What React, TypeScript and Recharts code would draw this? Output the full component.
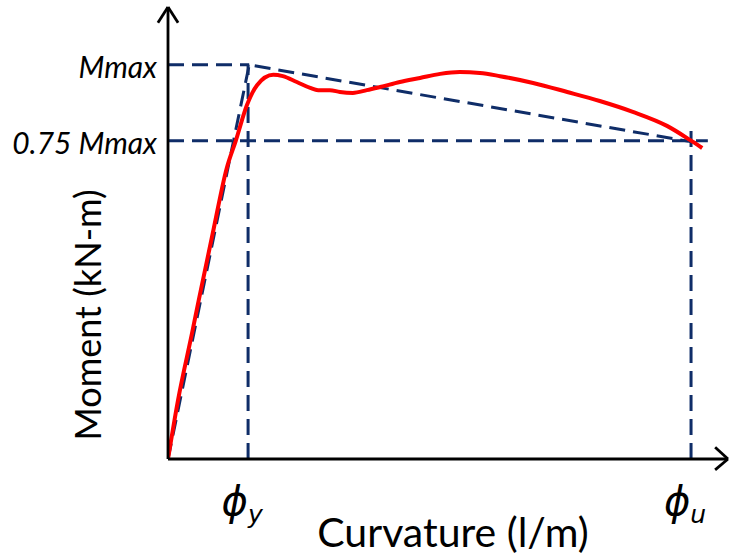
import { LineChart, Line, XAxis, YAxis, ReferenceLine } from "recharts";

// moment-curvature response (arbitrary units)
const curvature = [0, 1.8, 4.3, 5.5, 8.0, 10.5, 12.1, 14.1, 15.9, 18.8, 20.5, 23.0, 25.4, 26.8, 28.9, 30.7, 33.0, 35.5, 37.9, 41.4, 45.0, 48.6, 52.1, 55.7, 59.3, 65.2, 71.3, 77.1, 83.0, 89.1, 93.2, 95.4];
const moment = [0, 13.1, 27.9, 35.2, 50.0, 64.4, 70.4, 78.3, 82.7, 85.0, 84.7, 83.4, 82.1, 81.6, 81.6, 81.2, 81.0, 81.6, 82.3, 83.4, 84.3, 85.2, 85.6, 85.4, 84.7, 83.2, 81.2, 79.2, 76.8, 73.7, 70.6, 68.8];

// idealised bilinear envelope
const bilinearX = [0, 14.5, 95.2];
const bilinearY = [0, 87.2, 69.8];

const M_MAX = 87.2;
const M_75 = 70.4;
const PHI_Y = 14.3;
const PHI_U = 93.4;
const PHI_U_TOP = 73.5;
const GUIDE_END = 96.4;

const yTicks = [M_75, M_MAX];
const yTickLabels = ["0.75 Mmax", "Mmax"];
const xTicks = [PHI_Y, PHI_U];
const xTickSubs = ["y", "u"];

// arrow heads at the end of each axis
const yArrow = [{ x: -1.8, y: 96.5 }, { x: 0, y: 100 }, { x: 1.8, y: 96.5 }];
const xArrow = [{ x: 97.7, y: 2.6 }, { x: 100, y: 0 }, { x: 97.7, y: -2.4 }];

const responseData = curvature.map((c, i) => ({ c, m: moment[i] }));
const bilinearData = bilinearX.map((c, i) => ({ c, b: bilinearY[i] }));

const NAVY = "#0f2d68";
const DASH = "16 8";
const FONT = "Lato, 'Open Sans', sans-serif";

function YTick(props: any) {
  const { x, y, payload } = props;
  const idx = yTicks.indexOf(payload.value);
  return (
    <text x={x + 1} y={y + 1} textAnchor="end" dominantBaseline="central"
      fontFamily={FONT} fontStyle="italic" fontSize={30} fill="#000">
      {yTickLabels[idx]}
    </text>
  );
}

function XTick(props: any) {
  const { x, payload } = props;
  const idx = xTicks.indexOf(payload.value);
  return (
    <text x={x - 6} y={515} textAnchor="middle" fontFamily="'DejaVu Sans', sans-serif"
      fontStyle="italic" fill="#000">
      <tspan fontSize={40}>ϕ</tspan>
      <tspan fontSize={25} dy={8}>{xTickSubs[idx]}</tspan>
    </text>
  );
}

export default function App() {
  return (
    <div style={{ position: "absolute", left: 0, top: 0, width: 731, height: 557, background: "#fff" }}>
      <LineChart width={731} height={557} margin={{ top: 7, right: 3, left: 0, bottom: 0 }}>
        <XAxis
          type="number" dataKey="c" domain={[0, 100]} allowDataOverflow
          ticks={xTicks} tick={<XTick />} tickLine={false} tickSize={0} tickMargin={10}
          height={98} axisLine={{ stroke: "#000", strokeWidth: 2.8 }}
          label={{
            content: (p: any) => {
              const vb = p.viewBox || { x: 168, y: 459, width: 560, height: 98 };
              return (
                <text x={vb.x + vb.width / 2 + 5} y={vb.y + vb.height - 10} textAnchor="middle"
                  fontFamily={FONT} fontSize={41} fill="#000">
                  Curvature (l/m)
                </text>
              );
            },
          }}
        />
        <YAxis
          type="number" domain={[0, 100]} allowDataOverflow
          ticks={yTicks} tick={<YTick />} tickLine={false} tickSize={0} tickMargin={12}
          width={168} axisLine={{ stroke: "#000", strokeWidth: 2.8 }}
          label={{
            content: (p: any) => {
              const vb = p.viewBox || { x: 0, y: 7, width: 168, height: 452 };
              const cx = vb.x + 87;
              const cy = vb.y + vb.height / 2 + 82;
              return (
                <text x={cx} y={cy} textAnchor="middle" dominantBaseline="central"
                  transform={`rotate(-90, ${cx}, ${cy})`}
                  fontFamily={FONT} fontSize={36} fill="#000">
                  Moment (kN-m)
                </text>
              );
            },
          }}
        />

        <ReferenceLine ifOverflow="visible" segment={[{ x: 0, y: M_MAX }, { x: bilinearX[1], y: M_MAX }]}
          stroke={NAVY} strokeWidth={3} strokeDasharray={DASH} />
        <ReferenceLine ifOverflow="visible" segment={[{ x: 0, y: M_75 }, { x: GUIDE_END, y: M_75 }]}
          stroke={NAVY} strokeWidth={3} strokeDasharray={DASH} />
        <ReferenceLine ifOverflow="visible" segment={[{ x: PHI_Y, y: 0 }, { x: PHI_Y, y: M_MAX }]}
          stroke={NAVY} strokeWidth={3} strokeDasharray={DASH} />
        <ReferenceLine ifOverflow="visible" segment={[{ x: PHI_U, y: 0 }, { x: PHI_U, y: PHI_U_TOP }]}
          stroke={NAVY} strokeWidth={3} strokeDasharray={DASH} />

        <Line data={bilinearData} dataKey="b" type="linear" stroke={NAVY} strokeWidth={3}
          strokeDasharray={DASH} dot={false} activeDot={false} isAnimationActive={false} />
        <Line data={responseData} dataKey="m" type="monotone" stroke="#ff0000" strokeWidth={4}
          dot={false} activeDot={false} isAnimationActive={false} />

        <ReferenceLine ifOverflow="visible" segment={[yArrow[0], yArrow[1]]} stroke="#000" strokeWidth={2.8} />
        <ReferenceLine ifOverflow="visible" segment={[yArrow[1], yArrow[2]]} stroke="#000" strokeWidth={2.8} />
        <ReferenceLine ifOverflow="visible" segment={[xArrow[0], xArrow[1]]} stroke="#000" strokeWidth={2.8} />
        <ReferenceLine ifOverflow="visible" segment={[xArrow[1], xArrow[2]]} stroke="#000" strokeWidth={2.8} />
      </LineChart>
    </div>
  );
}
